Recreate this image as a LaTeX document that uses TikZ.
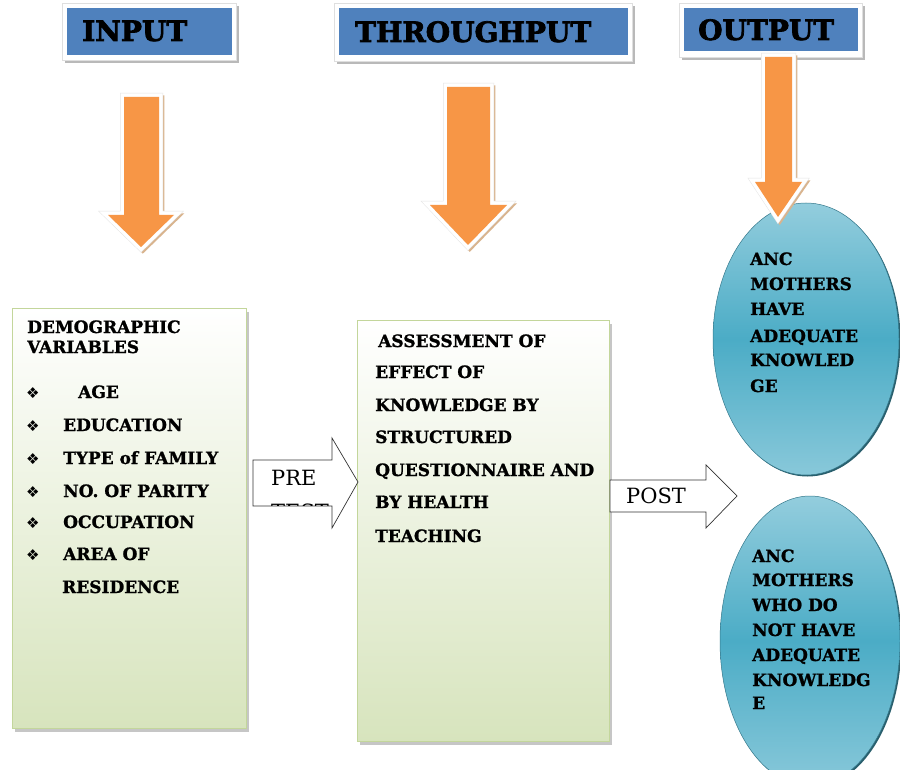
\documentclass[tikz,border=0pt]{standalone}
\usepackage{fontspec}
\newfontface\bodyfont[FakeBold=1.2]{DejaVu Serif Bold}
\newfontface\headfont[FakeBold=2.5]{DejaVu Serif Bold}
\newfontfamily\dserif{DejaVu Serif}
\newfontfamily\dsans{DejaVu Sans}
\usetikzlibrary{shapes.geometric}
\definecolor{hblue}{HTML}{4F81BD}
\definecolor{aorange}{HTML}{F79646}
\definecolor{ashadow}{HTML}{D9B48E}
\definecolor{gfill}{HTML}{D7E4BD}
\definecolor{gborder}{HTML}{C3D69B}
\definecolor{tealm}{HTML}{4BACC6}
\definecolor{teall}{HTML}{93CDDD}
\tikzset{
  hframe/.style={draw=gray!25, fill=white, line width=0.6pt, inner sep=0pt,
    preaction={fill=gray!55, transform canvas={xshift=2.5pt,yshift=-3pt}}},
  hbox/.style={fill=hblue, draw=none, inner sep=0pt},
  hdr/.style={font=\headfont\fontsize{28}{30}\selectfont, anchor=base west, inner sep=0pt},
  gbox/.style={draw=gborder, line width=1.2pt, top color=white, bottom color=gfill, inner sep=0pt,
    preaction={fill=gray!45, transform canvas={xshift=2pt,yshift=-3pt}}},
  txt/.style={font=\bodyfont\fontsize{17}{20}\selectfont, anchor=base west, inner sep=0pt},
  bul/.style={font=\dsans\fontsize{15}{16}\selectfont, anchor=base west, inner sep=0pt},
  lbl/.style={font=\dserif\fontsize{21}{25}\selectfont, anchor=base west, inner sep=0pt},
  oval/.style={ellipse, draw=tealm!70!black, line width=0.5pt, top color=teall, bottom color=teall!85!tealm, middle color=tealm, inner sep=0pt,
    preaction={fill=tealm!55!black, transform canvas={xshift=1.5pt,yshift=-1.5pt}}},
  blockarrow/.style={draw=black!80, fill=white, line width=0.7pt, line join=miter}
}
% #1 shaft left, #2 shaft right, #3 top, #4 head left, #5 head right, #6 head base, #7 tip x, #8 tip y
\newcommand\oarrow[8]{%
  \begin{scope}[shift={(1.8,1.8)}]
    \draw[ashadow, line width=7pt, line join=miter, fill=ashadow] (#1,#3) -- (#2,#3) -- (#2,#6) -- (#5,#6) -- (#7,#8) -- (#4,#6) -- (#1,#6) -- cycle;
  \end{scope}
  \draw[gray!20, line width=8pt, line join=miter] (#1,#3) -- (#2,#3) -- (#2,#6) -- (#5,#6) -- (#7,#8) -- (#4,#6) -- (#1,#6) -- cycle;
  \draw[white, line width=7pt, line join=miter, fill=white] (#1,#3) -- (#2,#3) -- (#2,#6) -- (#5,#6) -- (#7,#8) -- (#4,#6) -- (#1,#6) -- cycle;
  \fill[aorange] (#1,#3) -- (#2,#3) -- (#2,#6) -- (#5,#6) -- (#7,#8) -- (#4,#6) -- (#1,#6) -- cycle;
}
\begin{document}
\begin{tikzpicture}[x=1pt,y=-1pt]
\useasboundingbox (0,0) rectangle (900,770);
\fill[white] (0,0) rectangle (900,770);

% header boxes
\node (inframe) [hframe, minimum width=174pt, minimum height=57pt] at (149.5,31.5) {};
\node (inbox) [hbox, minimum width=165pt, minimum height=47pt] at (149.5,31.5) {};
\node (intext) [hdr] at (82,41) {INPUT};

\node (thframe) [hframe, minimum width=298pt, minimum height=58pt] at (483.5,32) {};
\node (thbox) [hbox, minimum width=289pt, minimum height=47pt] at (483.5,31.5) {};
\node (thtext) [hdr] at (355,42) {THROUGHPUT};

\node (outframe) [hframe, minimum width=183pt, minimum height=54pt] at (770.5,30.5) {};
\node (outbox) [hbox, minimum width=174pt, minimum height=43pt] at (770.5,29.5) {};
\node (outtext) [hdr] at (698,40) {OUTPUT};

% orange arrows
\oarrow{124}{159}{97}{108}{174}{215}{141}{247}
\oarrow{447}{490}{87}{430}{507}{205}{468}{245}

% boxes
\node (demo) [gbox, minimum width=234pt, minimum height=420pt, anchor=north west] at (12,308) {};
\node (assess) [gbox, minimum width=252pt, minimum height=421pt, anchor=north west] at (357,320) {};

% ellipses
\node (e1) [oval, minimum width=186pt, minimum height=272pt] at (806,339) {};
\node (e2) [oval, minimum width=180pt, minimum height=290pt] at (810,641) {};

\oarrow{765}{792}{57}{755}{802}{182}{778}{217}

% demographic text
\node (d1) [txt] at (27,333) {DEMOGRAPHIC};
\node (d2) [txt] at (27,353) {VARIABLES};
\foreach \y/\x/\t [count=\i] in {398/78/AGE, 431/63/EDUCATION, 464/63/TYPE of FAMILY, 497/63/NO. OF PARITY, 528/63/OCCUPATION, 560/63/AREA OF}{
  \node (b\i) [bul] at (26,\y) {❖};
  \node (it\i) [txt] at (\x,\y) {\t};
}
\node (it7) [txt] at (62,593) {RESIDENCE};

% assessment text
\node (a1) [txt] at (378,347) {ASSESSMENT OF};
\node (a2) [txt] at (375,378) {EFFECT OF};
\node (a3) [txt] at (375,411) {KNOWLEDGE BY};
\node (a4) [txt] at (375,443) {STRUCTURED};
\node (a5) [txt] at (375,476) {QUESTIONNAIRE AND};
\node (a6) [txt] at (375,508) {BY HEALTH};
\node (a7) [txt] at (375,542) {TEACHING};

% ellipse texts
\node (o1) [txt] at (750,265) {ANC};
\node (o2) [txt] at (750,290) {MOTHERS};
\node (o3) [txt] at (750,315) {HAVE};
\node (o4) [txt] at (750,342) {ADEQUATE};
\node (o5) [txt] at (750,366) {KNOWLED};
\node (o6) [txt] at (750,392) {GE};

\node (p1) [txt] at (752,562) {ANC};
\node (p2) [txt] at (752,586) {MOTHERS};
\node (p3) [txt] at (752,611) {WHO DO};
\node (p4) [txt] at (752,636) {NOT HAVE};
\node (p5) [txt] at (752,661) {ADEQUATE};
\node (p6) [txt] at (752,686) {KNOWLEDG};
\node (p7) [txt] at (752,709) {E};

% PRE arrow
\draw[blockarrow] (253,460) -- (332,460) -- (332,438) -- (358,482) -- (332,528) -- (332,506) -- (253,506) -- cycle;
\begin{scope}
  \clip (254,461) rectangle (331,505);
  \node (pre) [lbl] at (271,485) {PRE};
  \node (test) [lbl] at (271,519) {TEST};
\end{scope}

% POST arrow
\draw[blockarrow] (610,480) -- (706,480) -- (706,465) -- (737,496) -- (706,528) -- (706,512) -- (610,512) -- cycle;
\node (post) [lbl] at (626,503) {POST};
\end{tikzpicture}
\end{document}
